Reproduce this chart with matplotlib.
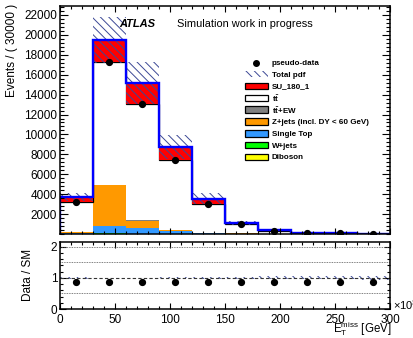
import numpy as np
import matplotlib
matplotlib.use("Agg")
from matplotlib import pyplot as plt
from matplotlib.patches import Rectangle
from matplotlib.lines import Line2D
from matplotlib.ticker import MultipleLocator

plt.rcParams["font.family"] = ["Liberation Sans", "DejaVu Sans"]
plt.rcParams["mathtext.fontset"] = "custom"
plt.rcParams["mathtext.rm"] = "Liberation Sans"
plt.rcParams["mathtext.bf"] = "Liberation Sans:bold"
plt.rcParams["mathtext.it"] = "Liberation Sans:italic"
plt.rcParams["hatch.linewidth"] = 0.7

# binning in E_T^miss (x 10^3 MeV)
edges = np.arange(0, 301, 30)
centers = edges[:-1] + 15

# stacked MC per bin
diboson = [5, 10, 10, 5, 3, 2, 1, 1, 0, 0]
wjets = [10, 60, 30, 15, 5, 3, 2, 1, 1, 0]
single_top = [120, 750, 600, 250, 80, 40, 20, 10, 5, 3]
zjets = [80, 4100, 700, 150, 30, 10, 5, 2, 1, 1]
ttbar_ew = [20, 40, 40, 30, 15, 8, 4, 2, 1, 1]
ttbar = [2965, 12340, 11720, 6950, 2867, 937, 298, 104, 52, 35]
signal = [500, 2200, 2100, 1300, 550, 100, 70, 30, 20, 10]
total_err = [400, 2300, 2100, 1200, 550, 240, 100, 50, 20, 15]

data = [3200, 17300, 13100, 7400, 3000, 1000, 350, 130, 70, 45]
ratio = [0.86, 0.88, 0.86, 0.86, 0.86, 0.86, 0.87, 0.87, 0.87, 0.87]
ratio_yerr = [0.01, 0.01, 0.01, 0.01, 0.02, 0.03, 0.04, 0.05, 0.06, 0.08]
ratio_band = [0.03, 0.01, 0.01, 0.015, 0.04, 0.04, 0.05, 0.05, 0.05, 0.06]

components = [
    ("Diboson", diboson, "#ffff00"),
    ("W+jets", wjets, "#00ff00"),
    ("Single Top", single_top, "#3399ff"),
    ("Z+jets (incl. DY < 60 GeV)", zjets, "#ff9900"),
    (r"$\mathbf{t\bar{t}}$+EW", ttbar_ew, "#808080"),
    (r"$\mathbf{t\bar{t}}$", ttbar, "#ffffff"),
    ("SU_180_1", signal, "#ff0000"),
]
hatch_col = "#3c4896"
hatch = "\\\\\\\\"

W, H = 414, 338


def fx(px):
    return px / W


def fy(py):
    return 1 - py / H


fig = plt.figure(figsize=(W / 100, H / 100), dpi=100)
ax = fig.add_axes([fx(60), fy(234), 330 / W, 228 / H])
rax = fig.add_axes([fx(60), fy(309), 330 / W, 67 / H])

bottom = np.zeros(len(centers))
for name, vals, col in components:
    vals = np.asarray(vals, dtype=float)
    ax.stairs(bottom + vals, edges, baseline=bottom, fill=True, color=col,
              linewidth=0)
    bottom = bottom + vals
    if name == r"$\mathbf{t\bar{t}}$":
        ax.stairs(bottom, edges, color="black", linewidth=0.9, baseline=None)
total = bottom

err = np.asarray(total_err, dtype=float)
ax.bar(centers, 2 * err, bottom=total - err, width=30, fill=False,
       hatch=hatch, edgecolor=hatch_col, linewidth=0)
ax.stairs(total, edges, color="#0000ff", linewidth=1.7, baseline=0)
ax.plot(centers, data, "o", color="black", markersize=4.2)

ax.set_xlim(0, 300)
ax.set_ylim(0, 22900)
ax.set_yticks(range(2000, 22001, 2000))
ax.yaxis.set_minor_locator(MultipleLocator(400))
ax.xaxis.set_major_locator(MultipleLocator(50))
ax.xaxis.set_minor_locator(MultipleLocator(10))
ax.tick_params(labelbottom=False)

fig.text(fx(119), fy(24), "ATLAS", fontsize=8, fontweight="bold",
         fontstyle="italic", va="center")
fig.text(fx(177), fy(24), "Simulation work in progress", fontsize=7.9,
         va="center")

# legend, drawn by hand to follow the ROOT layout
leg_labels = ["pseudo-data", "Total pdf"] + [c[0] for c in components[::-1]]
leg_cols = [None, None] + [c[2] for c in components[::-1]]
row_y = 62.5
for i, (lab, col) in enumerate(zip(leg_labels, leg_cols)):
    yc = row_y + 11.8 * i
    if i == 0:
        fig.add_artist(Line2D([fx(256.5)], [fy(yc)], marker="o",
                              color="black", markersize=4,
                              transform=fig.transFigure))
    elif i == 1:
        fig.add_artist(Rectangle((fx(245), fy(yc + 3)), 23 / W, 6 / H,
                                 fill=False, hatch=hatch,
                                 edgecolor=hatch_col, linewidth=0,
                                 transform=fig.transFigure))
    else:
        fig.add_artist(Rectangle((fx(245), fy(yc + 3.3)), 23 / W, 6.6 / H,
                                 facecolor=col, edgecolor="black",
                                 linewidth=0.9, transform=fig.transFigure))
    fig.text(fx(272), fy(yc), lab, fontsize=5.8, fontweight="bold",
             va="center_baseline")

# ratio panel
rband = np.asarray(ratio_band, dtype=float)
rax.bar(centers, 2 * rband, bottom=1 - rband, width=30, fill=False,
        hatch=hatch, edgecolor=hatch_col, linewidth=0)
for yv in (0.5, 1.5, 2.0):
    rax.axhline(yv, color="#555555", linestyle=(0, (1, 1)), linewidth=0.6)
rax.axhline(1.0, color="#333333", linestyle=(0, (3, 2)), linewidth=0.8)
rax.errorbar(centers, ratio, yerr=ratio_yerr, fmt="o", color="black",
             markersize=4.2, elinewidth=0.8, capsize=0)
rax.set_xlim(0, 300)
rax.set_ylim(0, 2.15)
rax.set_yticks([0, 1, 2])
rax.yaxis.set_minor_locator(MultipleLocator(0.2))
rax.xaxis.set_major_locator(MultipleLocator(50))
rax.xaxis.set_minor_locator(MultipleLocator(10))

for a, xmaj, xmin_, ymaj, ymin_ in ((ax, 4, 2, 5.5, 3), (rax, 4, 2.2, 4, 2.2)):
    a.tick_params(axis="x", which="major", direction="in", top=True,
                  length=xmaj, width=0.8, labelsize=8.5, pad=3.5)
    a.tick_params(axis="x", which="minor", direction="in", top=True,
                  length=xmin_, width=0.8)
    a.tick_params(axis="y", which="major", direction="in", right=True,
                  length=ymaj, width=0.8, labelsize=8.5, pad=2)
    a.tick_params(axis="y", which="minor", direction="in", right=True,
                  length=ymin_, width=0.8)
    for sp in a.spines.values():
        sp.set_linewidth(1.1)

fig.text(fx(12), fy(4), "Events / ( 30000 )", rotation=90,
         ha="center", va="top", fontsize=8.5)
fig.text(fx(28), fy(275), "Data / SM", rotation=90,
         ha="center", va="center", fontsize=8.5)
fig.text(fx(391), fy(337.5), r"E$_{\rm T}^{\rm miss}$ [GeV]",
         ha="right", va="bottom", fontsize=8.3)
fig.text(fx(393), fy(305), r"$\times$10$^{3}$", ha="left",
         va="center", fontsize=8)

fig.savefig("out.png", dpi=100)
